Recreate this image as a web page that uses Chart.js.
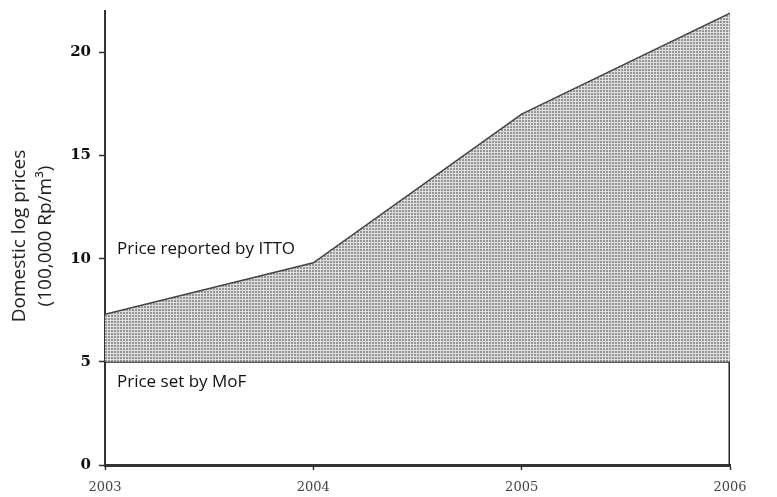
<!DOCTYPE html>
<html>
<head>
<meta charset="utf-8">
<script src="https://cdn.jsdelivr.net/npm/chart.js@4.4.1/dist/chart.umd.min.js"></script>
<style>
html,body{margin:0;padding:0;background:#fff;}
#wrap{width:777px;height:497px;}
</style>
</head>
<body>
<div id="wrap"><canvas id="c" width="777" height="497"></canvas></div>
<script>
const years = [2003, 2004, 2005, 2006];
const ittoPrice = [7.3, 9.8, 17.0, 21.9];
const mofPrice = [5, 5, 5, 5];
const yTicks = [0, 5, 10, 15, 20];
const xTicks = [2003, 2004, 2005, 2006];
const labelItto = 'Price reported by ITTO';
const labelMof = 'Price set by MoF';

function makePattern() {
  const p = document.createElement('canvas');
  p.width = 3; p.height = 3;
  const g = p.getContext('2d');
  g.fillStyle = '#dedede';
  g.fillRect(0, 0, 3, 3);
  g.fillStyle = '#959595';
  g.fillRect(0, 0, 2, 2);
  return g.createPattern(p, 'repeat');
}
const ctx = document.getElementById('c').getContext('2d');
const pattern = makePattern();

const labelPlugin = {
  id: 'labels',
  afterDatasetsDraw(chart) {
    const c = chart.ctx, xs = chart.scales.x, ys = chart.scales.y;
    c.save();
    c.fillStyle = '#111';
    c.font = '17px "Open Sans", sans-serif';
    c.textBaseline = 'middle';
    c.textAlign = 'left';
    c.fillText(labelItto, xs.getPixelForValue(years[0]) + 12, ys.getPixelForValue(10) - 9);
    c.fillText(labelMof, xs.getPixelForValue(years[0]) + 12, ys.getPixelForValue(mofPrice[0]) + 20);
    // y axis title
    c.translate(20, 236);
    c.rotate(-Math.PI / 2);
    c.textAlign = 'center';
    c.font = '19px "Open Sans", sans-serif';
    c.fillStyle = '#222';
    c.fillText('Domestic log prices', 0, 0);
    c.fillText('(100,000 Rp/m\u00B3)', 0, 26);
    c.restore();
  }
};

new Chart(ctx, {
  type: 'line',
  data: {
    datasets: [
      {
        label: labelItto,
        data: years.map((y, i) => ({x: y, y: ittoPrice[i]})),
        borderColor: '#444',
        borderWidth: 1.5,
        backgroundColor: pattern,
        fill: 1,
        pointRadius: 0,
        tension: 0
      },
      {
        label: labelMof,
        data: years.map((y, i) => ({x: y, y: mofPrice[i]})),
        borderColor: '#222',
        borderWidth: 2,
        fill: false,
        pointRadius: 0,
        tension: 0
      },
      {
        label: 'edge',
        data: [{x: years[years.length - 1], y: 0}, {x: years[years.length - 1], y: ittoPrice[ittoPrice.length - 1]}],
        borderColor: '#222',
        borderWidth: 3,
        pointRadius: 0,
        fill: false
      }
    ]
  },
  options: {
    responsive: false,
    animation: false,
    devicePixelRatio: 1,
    layout: {padding: {top: 11, right: 47, left: 0, bottom: 0}},
    plugins: {legend: {display: false}, tooltip: {enabled: false}},
    scales: {
      x: {
        type: 'linear',
        min: years[0], max: years[years.length - 1],
        afterBuildTicks(s) { s.ticks = xTicks.map(v => ({value: v})); },
        afterFit(s) { s.height = 32; s.paddingLeft = 0; s.paddingRight = 0; },
        border: {display: true, color: '#333', width: 3},
        grid: {drawOnChartArea: false, drawTicks: true, tickLength: 5, color: '#333', tickWidth: 1.5},
        ticks: {
          color: '#444',
          font: {family: '"DejaVu Serif", serif', size: 13},
          padding: 10,
          callback: v => String(v),
          maxRotation: 0
        }
      },
      y: {
        min: 0, max: 22,
        afterBuildTicks(s) { s.ticks = yTicks.map(v => ({value: v})); },
        afterFit(s) { s.width = 105; s.paddingTop = 0; s.paddingBottom = 0; },
        border: {display: true, color: '#333', width: 2},
        grid: {drawOnChartArea: false, drawTicks: true, tickLength: 6, color: '#333', tickWidth: 1.5},
        ticks: {
          color: '#111',
          font: {family: '"DejaVu Serif", serif', size: 15, weight: 'bold'},
          padding: 8
        }
      }
    }
  },
  plugins: [labelPlugin]
});
</script>
</body>
</html>
